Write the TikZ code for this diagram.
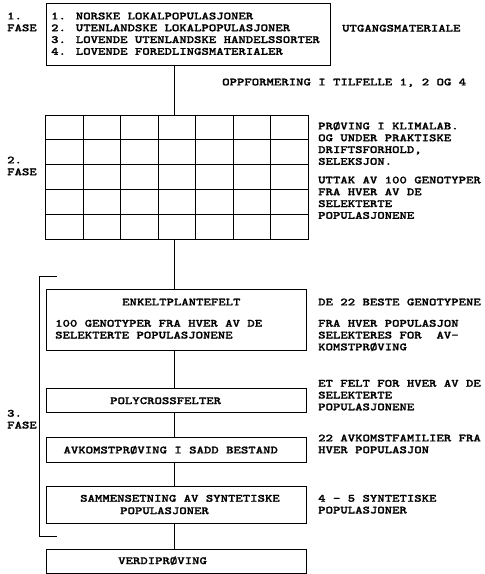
\documentclass[tikz,border=0pt]{standalone}
\usepackage{fontspec}
\setmainfont{lmmonolt10-bold.otf}[FakeStretch=1.28,FakeBold=1.3]
\newcommand\mlines[1]{\begin{tabular}[t]{@{}l@{}}#1\end{tabular}}
\begin{document}
\begin{tikzpicture}[x=1pt,y=-1pt,
  box/.style={draw, line width=0.9pt, rectangle, inner sep=0pt},
  txt/.style={inner sep=0pt, anchor=base west, font=\fontsize{11}{11.8}\selectfont},
  link/.style={line width=0.9pt}]
\useasboundingbox (0,0) rectangle (485,574);
% boxes
\node[box, minimum width=284pt, minimum height=61.7pt] (start) at (188.7,34.15) {};
\node[box, minimum width=262.6pt, minimum height=124pt] (grid) at (177,177) {};
\node[box, minimum width=260.8pt, minimum height=61.2pt] (enkelt) at (176.4,319.9) {};
\node[box, minimum width=260.8pt, minimum height=24.4pt] (poly) at (176.4,400.5) {};
\node[box, minimum width=260.8pt, minimum height=24.7pt] (avk) at (176.4,449.65) {};
\node[box, minimum width=260.8pt, minimum height=37pt] (sam) at (176.4,505) {};
\node[box, minimum width=260.8pt, minimum height=24.2pt] (verdi) at (176.4,561.4) {};
% grid interior
\foreach \i in {1,...,6} {\pgfmathsetmacro\gx{45.7+\i*37.514}
  \draw[link] (\gx,115) -- (\gx,239);}
\foreach \j in {1,...,4} {\pgfmathsetmacro\gy{115+\j*24.8}
  \draw[link] (45.7,\gy) -- (308.3,\gy);}
% connectors
\coordinate (col) at (174,0);
\draw[link] (col |- start.south) -- (col |- grid.north);
\draw[link] (col |- grid.south) -- (col |- enkelt.north);
\draw[link] (col |- enkelt.south) -- (col |- poly.north);
\draw[link] (col |- poly.south) -- (col |- avk.north);
\draw[link] (col |- avk.south) -- (col |- sam.north);
\draw[link] (col |- sam.south) -- (col |- verdi.north);
% phase 3 bracket
\draw[link] (57,276.7) -- (39.5,276.7) -- (39.5,536.7) -- (57,536.7);
% phase labels
\node[txt] (l1) at (7,19.4) {\mlines{1.\\FASE}};
\node[txt] (l2) at (7,163.4) {\mlines{2.\\FASE}};
\node[txt] (l3) at (7,416.7) {\mlines{3.\\FASE}};
% box texts
\node[txt] (t1) at (51,19.4) {\mlines{1. NORSKE LOKALPOPULASJONER\\2. UTENLANDSKE LOKALPOPULASJONER\\3. LOVENDE UTENLANDSKE HANDELSSORTER\\4. LOVENDE FOREDLINGSMATERIALER}};
\node[txt] (t2) at (122,305.4) {ENKELTPLANTEFELT};
\node[txt] (t3) at (55,326.7) {\mlines{100 GENOTYPER FRA HVER AV DE\\SELEKTERTE POPULASJONENE}};
\node[txt] (t4) at (110,404.1) {POLYCROSSFELTER};
\node[txt] (t5) at (63.3,453.4) {AVKOMSTPRØVING I SADD BESTAND};
\node[txt] (t6) at (80,501.7) {SAMMENSETNING AV SYNTETISKE};
\node[txt] (t7) at (120,514.1) {POPULASJONER};
\node[txt] (t8) at (118,564.1) {VERDIPRØVING};
% side texts
\node[txt] (r0) at (342,31.6) {UTGANGSMATERIALE};
\node[txt] (r1) at (222,85.4) {OPPFORMERING I TILFELLE 1, 2 OG 4};
\node[txt] (r2) at (318,129.4) {\mlines{PRØVING I KLIMALAB.\\OG UNDER PRAKTISKE\\DRIFTSFORHOLD,\\SELEKSJON.}};
\node[txt] (r3) at (318,183.4) {\mlines{UTTAK AV 100 GENOTYPER\\FRA HVER AV DE\\SELEKTERTE\\POPULASJONENE}};
\node[txt] (r4) at (318,305.4) {DE 22 BESTE GENOTYPENE};
\node[txt] (r5) at (318,326.7) {\mlines{FRA HVER POPULASJON\\SELEKTERES FOR~~AV-\\KOMSTPRØVING}};
\node[txt] (r6) at (318,386.7) {\mlines{ET FELT FOR HVER AV DE\\SELEKTERTE\\POPULASJONENE}};
\node[txt] (r7) at (318,441.4) {\mlines{22 AVKOMSTFAMILIER FRA\\HVER POPULASJON}};
\node[txt] (r8) at (318,501.7) {\mlines{4 - 5 SYNTETISKE\\POPULASJONER}};
\end{tikzpicture}
\end{document}
